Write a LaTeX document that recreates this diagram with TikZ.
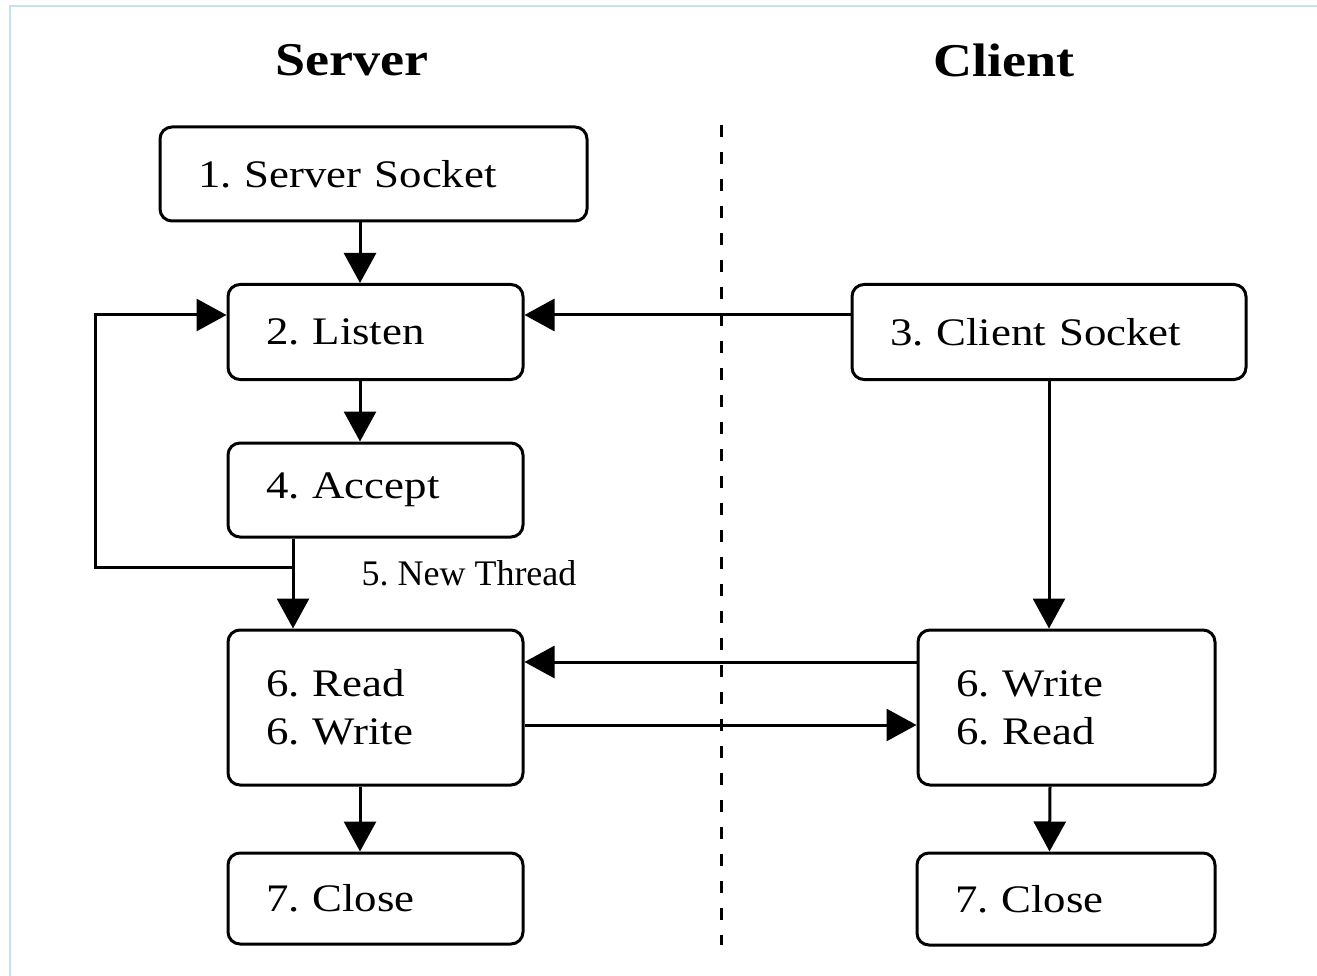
\documentclass[tikz,border=0pt]{standalone}
\usepackage{fontspec}
\setmainfont{Liberation Serif}[FakeStretch=1.15]
\newfontfamily\threadfont{Liberation Serif}
\usetikzlibrary{arrows.meta}
\definecolor{framecyan}{RGB}{196,228,236}
\frenchspacing

\begin{document}
\begin{tikzpicture}[
    x=1pt, y=-1pt,
    every node/.style={font=\fontsize{39}{48}\selectfont},
    box/.style={draw, line width=3pt, rounded corners=12pt, inner xsep=38pt,
      inner ysep=0pt, align=left},
    title/.style={font=\fontsize{47}{56}\selectfont\bfseries},
    arr/.style={line width=3pt, -{Triangle[length=30pt,width=32pt]}},
    divider/.style={line width=3pt, dash pattern=on 12pt off 15pt},
    frame/.style={draw=framecyan, line width=2pt}
  ]
    \clip (0,0) rectangle (1317,976);
    \fill[white] (0,0) rectangle (1317,976);
    \draw[frame] (10,6) rectangle (1340,1000);

    \node[title] (srvtitle) at (352,60) {Server};
    \node[title] (clttitle) at (1004,60) {Client};

    \draw[divider] (721,125) -- (721,945);

    \node[box, text width=351pt, minimum height=94pt] (ssock) at (373.5,174) {1. Server Socket};
    \node[box, text width=219pt, minimum height=95pt] (listen) at (375.5,332) {2. Listen};
    \node[box, text width=219pt, minimum height=94pt] (accept) at (375.5,490) {4. Accept};
    \node[box, text width=219pt, minimum height=155pt] (srw) at (375.5,707.5) {6. Read\\6. Write};
    \node[box, text width=219pt, minimum height=91pt] (sclose) at (375.5,898.5) {7. Close};

    \node[box, text width=318pt, minimum height=95pt] (csock) at (1049,332) {3. Client Socket};
    \node[box, text width=221pt, minimum height=155pt] (cwr) at (1066.5,707.5) {6. Write\\6. Read};
    \node[box, text width=222pt, minimum height=92pt] (cclose) at (1066,899) {7. Close};

    \node[anchor=west, font=\threadfont\fontsize{36}{44}\selectfont] (thread) at (358,573) {5. New Thread};

    \coordinate (split) at ([xshift=-82.5pt]accept.south |- 0,567);

    \draw[arr] ([xshift=-15.5pt]listen.north |- ssock.south) -- ([xshift=-15.5pt]listen.north);
    \draw[arr] ([xshift=-15.5pt]listen.south) -- ([xshift=-15.5pt]accept.north);
    \draw[arr] ([xshift=-82.5pt]accept.south) -- ([xshift=-82.5pt]srw.north);
    \draw[arr] (split) -- (95,567) |- ([yshift=17pt]listen.west);
    \draw[arr] ([yshift=17pt]csock.west) -- ([yshift=17pt]listen.east);
    \draw[arr] (csock.south) -- (csock.south |- cwr.north);
    \draw[arr] ([yshift=45.5pt]cwr.west) -- ([yshift=45.5pt]srw.east);
    \draw[arr] ([yshift=-17.5pt]srw.east) -- ([yshift=-17.5pt]cwr.west);
    \draw[arr] ([xshift=-15.5pt]srw.south) -- ([xshift=-15.5pt]sclose.north);
    \draw[arr] ([xshift=-16.5pt]cwr.south) -- ([xshift=-16.5pt]cclose.north);
\end{tikzpicture}
\end{document}
